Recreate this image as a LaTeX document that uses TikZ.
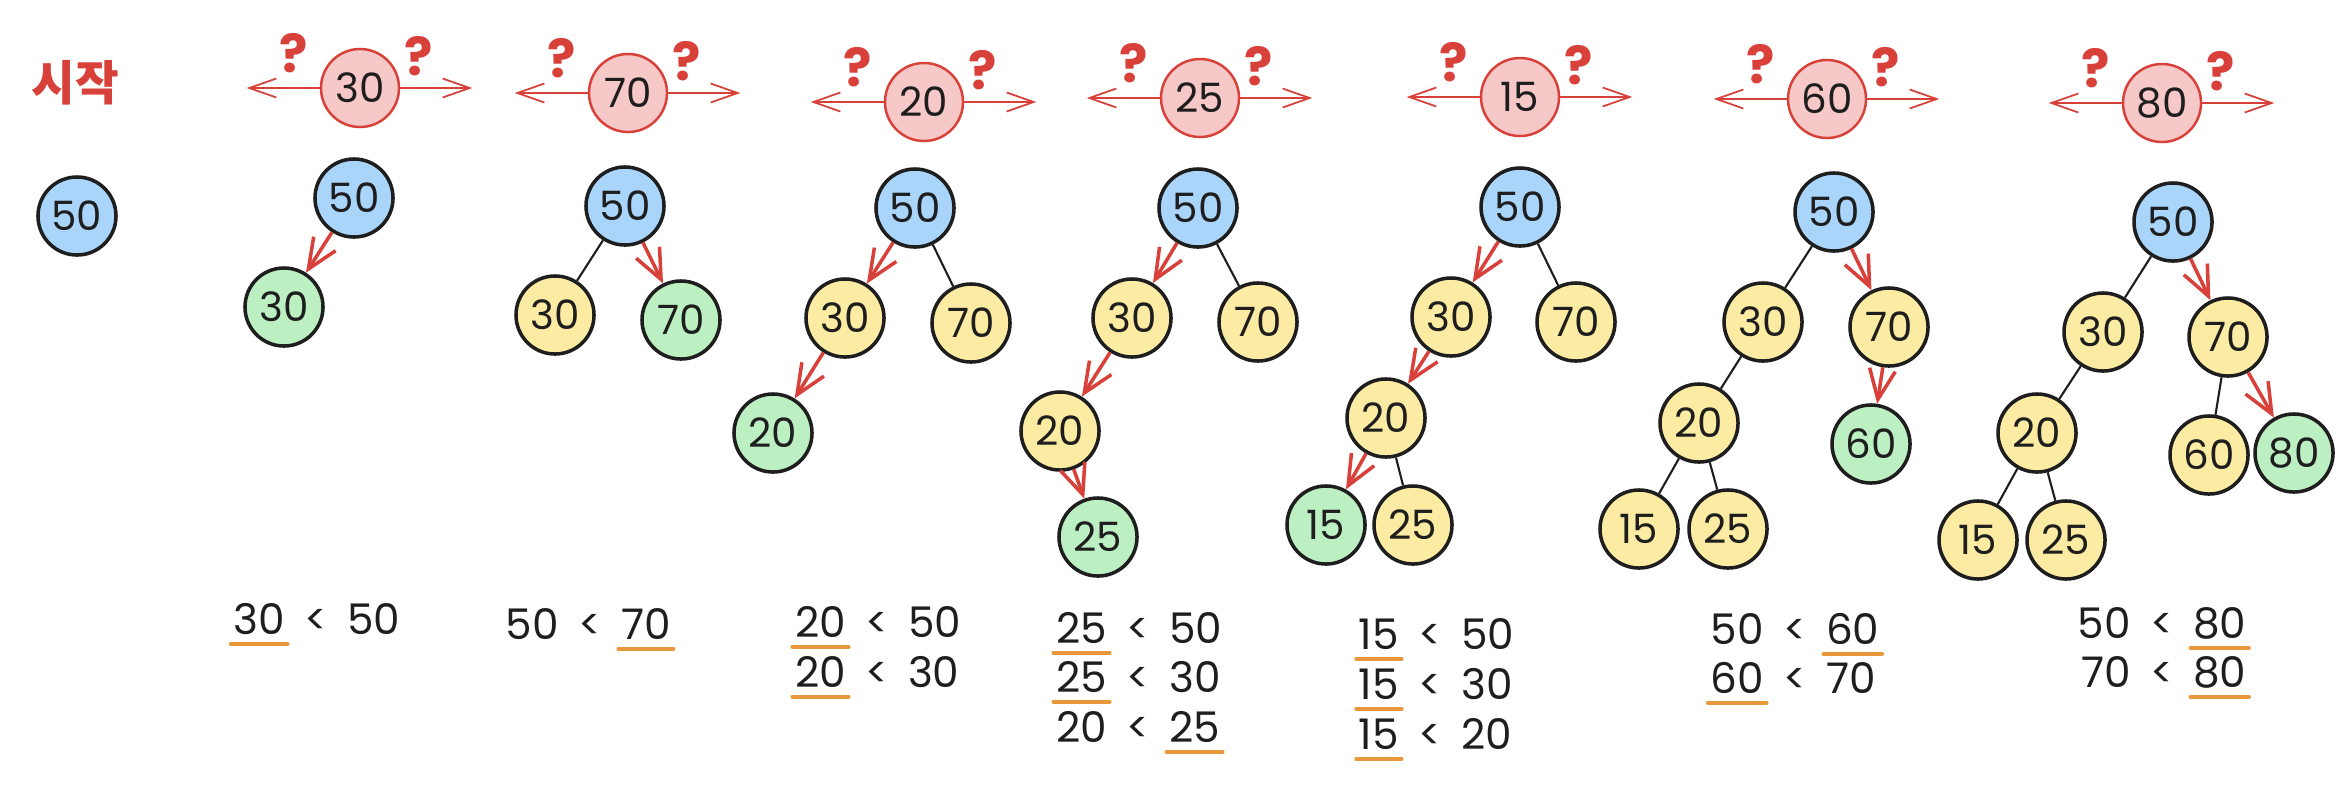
\documentclass[tikz,border=0pt]{standalone}
\usepackage{fontspec}
\setmainfont{Poppins}
\newfontfamily\krfont{Noto Sans CJK KR}
\usetikzlibrary{arrows.meta,positioning}
\usepackage{xcolor}

\definecolor{ink}{HTML}{1E1E1E}
\definecolor{keyblue}{HTML}{A9D5FB}
\definecolor{keygreen}{HTML}{BCF0C2}
\definecolor{keyyellow}{HTML}{FCEBA2}
\definecolor{probepink}{HTML}{F6C8C8}
\definecolor{walkred}{HTML}{D8403A}
\definecolor{lineorange}{HTML}{E8973A}

\begin{document}
\begin{tikzpicture}[x=0.01cm, y=-0.01cm,
  key/.style={circle, draw=ink, line width=1pt, minimum size=0.78cm, inner sep=0pt, text=ink, font=\fontsize{11.5}{13}\selectfont},
  root/.style={key, fill=keyblue},
  old/.style={key, fill=keyyellow},
  new/.style={key, fill=keygreen},
  probe/.style={key, draw=walkred, line width=0.7pt, fill=probepink},
  link/.style={ink, line width=0.6pt},
  walk/.style={walkred, line width=1pt, -{Straight Barb[length=3mm,width=2.6mm]}},
  side/.style={walkred, line width=0.5pt, -{Straight Barb[length=2.7mm,width=1.9mm]}},
  qmark/.style={text=walkred, font=\fontsize{15}{17}\selectfont\bfseries},
  cmp/.style={text=ink, inner xsep=0.02cm, inner ysep=0.09cm, text height=0.3cm, text depth=0pt, font=\fontsize{12}{14}\selectfont},
  uline/.style={lineorange, line width=1.1pt, line cap=round}]
\useasboundingbox (0,0) rectangle (2352,784);

\node[text=walkred, font=\krfont\bfseries\fontsize{13.5}{15}\selectfont] (title) at (75,83) {시작};
\node[root] (s50) at (77,216) {50};

% keys to insert
\foreach \k/\x/\y in {30/360/88, 70/628/93, 20/924/102, 25/1200/98, 15/1520/97, 60/1827/99, 80/2162/103}{
  \node[probe] (p\k) at (\x,\y) {\k};
  \coordinate[left=0.73cm of p\k] (l\k);
  \coordinate[right=0.72cm of p\k] (r\k);
  \draw[side] (p\k) -- (l\k);
  \draw[side] (p\k) -- (r\k);
  \node[qmark] (ql\k) at (\x-66,\y-35) {?};
  \node[qmark] (qr\k) at (\x+59,\y-32) {?};
}

% insert 30
\node[root] (a50) at (354,198) {50};
\node[new]  (a30) at (284,307) {30};
\draw[walk] (a50) -- (a30);

% insert 70
\node[root] (b50) at (625,206) {50};
\node[old]  (b30) at (555,315) {30};
\node[new]  (b70) at (681,320) {70};
\draw[link] (b50) -- (b30);
\draw[walk] (b50) -- (b70);

% insert 20
\node[root] (c50) at (915,208) {50};
\node[old]  (c30) at (845,318) {30};
\node[old]  (c70) at (971,323) {70};
\node[new]  (c20) at (773,433) {20};
\draw[walk] (c50) -- (c30);
\draw[link] (c50) -- (c70);
\draw[walk] (c30) -- (c20);

% insert 25
\node[root] (d50) at (1198,208) {50};
\node[old]  (d30) at (1132,318) {30};
\node[old]  (d70) at (1258,322) {70};
\node[old]  (d20) at (1060,431) {20};
\node[new]  (d25) at (1098,537) {25};
\draw[walk] (d50) -- (d30);
\draw[link] (d50) -- (d70);
\draw[walk] (d30) -- (d20);
\draw[walk] (d20) -- (d25);

% insert 15
\node[root] (e50) at (1520,207) {50};
\node[old]  (e30) at (1451,317) {30};
\node[old]  (e70) at (1576,322) {70};
\node[old]  (e20) at (1386,418) {20};
\node[new]  (e15) at (1326,525) {15};
\node[old]  (e25) at (1413,525) {25};
\draw[walk] (e50) -- (e30);
\draw[link] (e50) -- (e70);
\draw[walk] (e30) -- (e20);
\draw[walk] (e20) -- (e15);
\draw[link] (e20) -- (e25);

% insert 60
\node[root] (f50) at (1834,212) {50};
\node[old]  (f30) at (1763,322) {30};
\node[old]  (f70) at (1889,327) {70};
\node[old]  (f20) at (1699,423) {20};
\node[new]  (f60) at (1871,444) {60};
\node[old]  (f15) at (1639,529) {15};
\node[old]  (f25) at (1728,529) {25};
\draw[link] (f50) -- (f30);
\draw[walk] (f50) -- (f70);
\draw[link] (f30) -- (f20);
\draw[walk] (f70) -- (f60);
\draw[link] (f20) -- (f15);
\draw[link] (f20) -- (f25);

% insert 80
\node[root] (g50) at (2173,222) {50};
\node[old]  (g30) at (2103,332) {30};
\node[old]  (g70) at (2228,337) {70};
\node[old]  (g20) at (2037,433) {20};
\node[old]  (g60) at (2209,455) {60};
\node[new]  (g80) at (2294,453) {80};
\node[old]  (g15) at (1978,540) {15};
\node[old]  (g25) at (2066,540) {25};
\draw[link] (g50) -- (g30);
\draw[walk] (g50) -- (g70);
\draw[link] (g30) -- (g20);
\draw[link] (g70) -- (g60);
\draw[walk] (g70) -- (g80);
\draw[link] (g20) -- (g15);
\draw[link] (g20) -- (g25);

% comparisons
\foreach \x/\y/\a/\b/\u in {
    316/619/30/50/cl, 590/624/50/70/cr,
    877/622/20/50/cl, 877/672/20/30/cl,
    1138/628/25/50/cl, 1138/677/25/30/cl, 1138/727/20/25/cr,
    1430/634/15/50/cl, 1430/684/15/30/cl, 1430/734/15/20/cl,
    1795/629/50/60/cr, 1795/678/60/70/cl,
    2162/623/50/80/cr, 2162/672/70/80/cr}{
  \node[cmp] (lt) at (\x,\y) {<};
  \node[cmp, left=0.14cm of lt] (cl) {\a};
  \node[cmp, right=0.14cm of lt] (cr) {\b};
  \draw[uline] (\u.south west) -- (\u.south east);
}
\end{tikzpicture}
\end{document}
